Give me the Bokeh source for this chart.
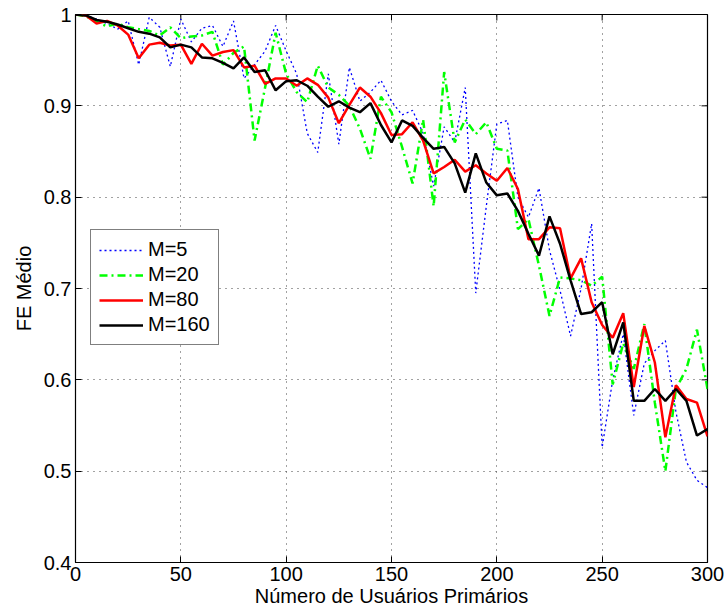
import math
from bokeh.plotting import figure
from bokeh.models import Legend, LegendItem, FixedTicker, Range1d
from bokeh.embed import file_html
from bokeh.resources import INLINE

x_users = list(range(0, 305, 5))

fe_m5 = [
    1.000, 0.999, 0.995, 0.990, 0.984, 0.993, 0.945, 0.997, 0.986, 0.943,
    0.995, 0.970, 0.985, 0.988, 0.965, 0.993, 0.930, 0.945, 0.960, 0.988,
    0.960, 0.935, 0.870, 0.849, 0.935, 0.858, 0.942, 0.905, 0.915, 0.928,
    0.905, 0.890, 0.895, 0.870, 0.812, 0.877, 0.860, 0.920, 0.695, 0.790,
    0.880, 0.884, 0.800, 0.778, 0.810, 0.742, 0.698, 0.648, 0.700, 0.771,
    0.526, 0.600, 0.650, 0.561, 0.618, 0.632, 0.643, 0.565, 0.510, 0.490,
    0.482]

fe_m20 = [
    1.000, 0.998, 0.992, 0.987, 0.990, 0.986, 0.984, 0.982, 0.977, 0.986,
    0.974, 0.976, 0.977, 0.981, 0.945, 0.958, 0.965, 0.862, 0.920, 0.980,
    0.935, 0.915, 0.904, 0.944, 0.920, 0.912, 0.900, 0.875, 0.842, 0.910,
    0.893, 0.855, 0.815, 0.885, 0.790, 0.937, 0.860, 0.885, 0.869, 0.882,
    0.853, 0.851, 0.765, 0.776, 0.725, 0.670, 0.712, 0.711, 0.709, 0.703,
    0.713, 0.595, 0.640, 0.612, 0.661, 0.575, 0.500, 0.590, 0.612, 0.655,
    0.590]

fe_m80 = [
    1.000, 0.999, 0.990, 0.993, 0.988, 0.978, 0.952, 0.967, 0.969, 0.966,
    0.967, 0.946, 0.968, 0.955, 0.959, 0.961, 0.942, 0.944, 0.924, 0.930,
    0.930, 0.922, 0.930, 0.923, 0.909, 0.881, 0.901, 0.920, 0.910, 0.892,
    0.868, 0.869, 0.882, 0.862, 0.826, 0.833, 0.841, 0.828, 0.835, 0.826,
    0.818, 0.832, 0.809, 0.754, 0.754, 0.767, 0.766, 0.711, 0.733, 0.685,
    0.660, 0.646, 0.673, 0.592, 0.659, 0.619, 0.537, 0.594, 0.579, 0.575,
    0.538]

fe_m160 = [
    1.000, 0.999, 0.994, 0.992, 0.989, 0.985, 0.981, 0.979, 0.975, 0.964,
    0.967, 0.964, 0.953, 0.952, 0.947, 0.941, 0.953, 0.937, 0.939, 0.917,
    0.927, 0.928, 0.922, 0.910, 0.899, 0.905, 0.898, 0.893, 0.903, 0.879,
    0.860, 0.884, 0.878, 0.865, 0.853, 0.855, 0.837, 0.805, 0.848, 0.816,
    0.802, 0.804, 0.785, 0.760, 0.736, 0.779, 0.749, 0.709, 0.672, 0.674,
    0.685, 0.628, 0.663, 0.577, 0.577, 0.590, 0.577, 0.590, 0.577, 0.539,
    0.546]

series_labels = ["M=5", "M=20", "M=80", "M=160"]
x_ticks = [0, 50, 100, 150, 200, 250, 300]
y_ticks = [0.4, 0.5, 0.6, 0.7, 0.8, 0.9, 1.0]
y_tick_labels = ["0.4", "0.5", "0.6", "0.7", "0.8", "0.9", "1"]

FONT = "Liberation Sans"
FS = "20px"

p = figure(width=725, height=612, output_backend="svg", toolbar_location=None,
           x_range=Range1d(0, 300), y_range=Range1d(0.4, 1.0),
           min_border_left=75, min_border_right=18, min_border_top=14,
           min_border_bottom=50, x_axis_label="Número de Usuários Primários",
           y_axis_label="FE Médio")
p.background_fill_color = "white"
p.border_fill_color = "white"
p.outline_line_color = "black"
p.outline_line_width = 1.2

for ax in (p.xaxis[0], p.yaxis[0]):
    ax.major_tick_in = 6
    ax.major_tick_out = 0
    ax.minor_tick_in = 0
    ax.minor_tick_out = 0
    ax.axis_line_color = "black"
    ax.major_tick_line_color = "black"
    ax.major_label_text_font = FONT
    ax.major_label_text_font_size = FS
    ax.major_label_text_color = "black"
    ax.axis_label_text_font = FONT
    ax.axis_label_text_font_size = FS
    ax.axis_label_text_font_style = "normal"
    ax.axis_label_text_color = "black"
    ax.major_label_standoff = 4

p.xaxis[0].ticker = FixedTicker(ticks=x_ticks)
p.yaxis[0].ticker = FixedTicker(ticks=y_ticks)
p.yaxis[0].major_label_overrides = {t: s for t, s in zip(y_ticks, y_tick_labels)}
p.xaxis[0].axis_label_standoff = 1
p.yaxis[0].axis_label_standoff = 6

p.xgrid.ticker = FixedTicker(ticks=x_ticks)
p.ygrid.ticker = FixedTicker(ticks=y_ticks)
for g in (p.xgrid[0], p.ygrid[0]):
    g.grid_line_color = "#444444"
    g.grid_line_dash = "1 5"
    g.grid_line_width = 1

# mirrored tick marks on the top and right edges (MATLAB box style)
p.ray(x=x_ticks, y=[y_ticks[-1]] * len(x_ticks), length=6, length_units="screen",
      angle=-math.pi / 2, line_color="black", line_width=1)
p.ray(x=[x_ticks[-1]] * len(y_ticks), y=y_ticks, length=6, length_units="screen",
      angle=math.pi, line_color="black", line_width=1)

r5 = p.line(x_users, fe_m5, line_color="#0000ff", line_width=1.3, line_dash="2 3")
r20 = p.line(x_users, fe_m20, line_color="#00ff00", line_width=2.5, line_dash="8 4 2 4")
r80 = p.line(x_users, fe_m80, line_color="#ff0000", line_width=2.5)
r160 = p.line(x_users, fe_m160, line_color="#000000", line_width=2.5)

legend = Legend(items=[LegendItem(label=series_labels[0], renderers=[r5]),
                       LegendItem(label=series_labels[1], renderers=[r20]),
                       LegendItem(label=series_labels[2], renderers=[r80]),
                       LegendItem(label=series_labels[3], renderers=[r160])],
                location=(15, 217))
legend.label_text_font = FONT
legend.label_text_font_size = FS
legend.label_text_color = "black"
legend.border_line_color = "black"
legend.border_line_width = 1
legend.background_fill_color = "white"
legend.background_fill_alpha = 1.0
legend.glyph_width = 44
legend.glyph_height = 20
legend.label_height = 20
legend.spacing = 2
legend.padding = 8
legend.margin = 0
legend.label_standoff = 5
p.add_layout(legend)

open("out.html", "w").write(file_html(p, INLINE))
